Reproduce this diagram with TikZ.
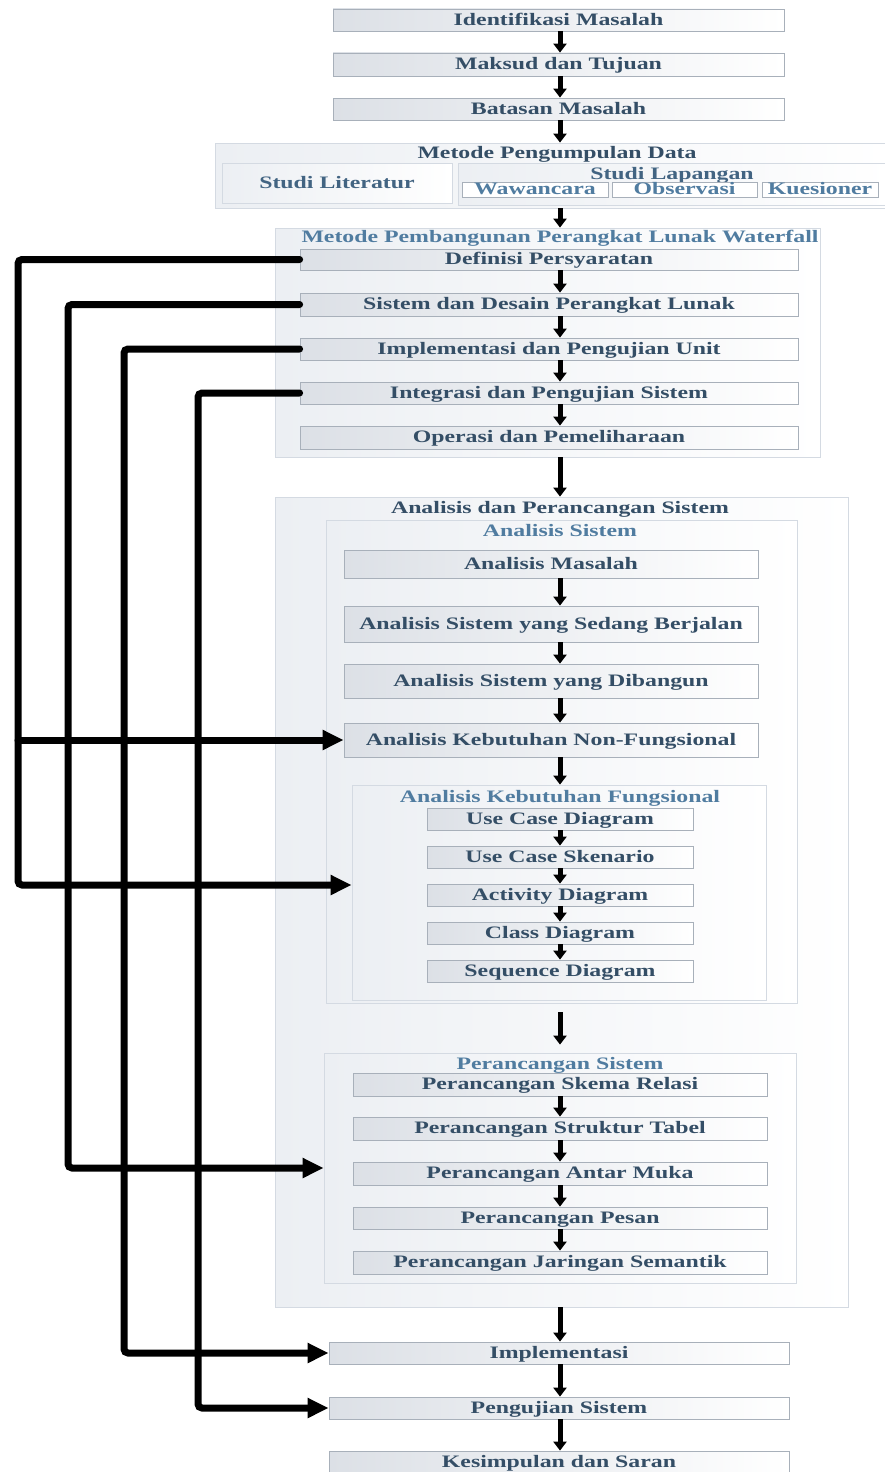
\documentclass[tikz,border=0pt]{standalone}
\usepackage{fontspec}
\setmainfont{Liberation Serif}
\usepackage{graphicx}
\usetikzlibrary{arrows.meta}
\definecolor{txt}{RGB}{52,78,102}
\definecolor{ttl}{RGB}{80,124,160}
\definecolor{mid}{RGB}{66,100,130}
\definecolor{bxl}{RGB}{220,224,230}
\definecolor{bxd}{RGB}{168,176,186}
\definecolor{cnl}{RGB}{236,239,243}
\definecolor{cnd}{RGB}{212,218,226}
\newcommand{\T}[1]{\scalebox{1.36}[1]{#1}}
\begin{document}
\begin{tikzpicture}[x=1pt,y=-1pt,
  fnt/.style={font=\fontsize{17.5}{19}\selectfont\bfseries, text height=11.5pt, text depth=1pt},
  stepbox/.style={draw=bxd, line width=0.8pt, left color=bxl, right color=white, inner sep=0pt, fnt, text=txt},
  cont/.style={draw=cnd, line width=0.8pt, left color=cnl, right color=white, inner sep=0pt},
  subbox/.style={draw=bxd, line width=0.6pt, fill=white, inner sep=0pt, fnt, text=ttl},
  dtitle/.style={inner sep=0pt, fnt, text=txt},
  ltitle/.style={inner sep=0pt, fnt, text=ttl},
  varrow/.style={line width=5pt, -{Triangle[width=13pt,length=9pt]}},
  larrow/.style={line width=7pt, rounded corners=4pt, line cap=round, -{Triangle[width=19pt,length=21pt]}}]
\useasboundingbox[fill=white] (0,0) rectangle (885,1472);
\coordinate (ax) at (560,0);

% top boxes
\node[stepbox, minimum width=451pt, minimum height=22pt] (idm) at (558.5,20) {\T{Identifikasi Masalah}};
\node[stepbox, minimum width=451pt, minimum height=23pt] (mdt) at (558.5,64.5) {\T{Maksud dan Tujuan}};
\node[stepbox, minimum width=451pt, minimum height=22pt] (bm) at (558.5,109) {\T{Batasan Masalah}};

% Metode Pengumpulan Data
\node[cont, minimum width=675pt, minimum height=65pt] (mpd) at (552.5,175.5) {};
\node[dtitle] (mpdt) at (557,153) {\T{Metode Pengumpulan Data}};
\node[cont, minimum width=230pt, minimum height=40pt, fnt, text=mid] (sl) at (337,183) {\T{Studi Literatur}};
\node[cont, minimum width=432pt, minimum height=42pt] (slap) at (674,184) {};
\node[inner sep=0pt, fnt, text=mid] (slapt) at (672,174) {\T{Studi Lapangan}};
\node[subbox, minimum width=146pt, minimum height=15pt] (wwc) at (535,189.5) {\T{Wawancara}};
\node[subbox, minimum width=145pt, minimum height=15pt] (obs) at (684.5,189.5) {\T{Observasi}};
\node[subbox, minimum width=116pt, minimum height=15pt] (kue) at (820,189.5) {\T{Kuesioner}};

% Waterfall
\node[cont, minimum width=545pt, minimum height=229pt] (wf) at (547.5,342.5) {};
\node[ltitle] (wft) at (560,237) {\T{Metode Pembangunan Perangkat Lunak Waterfall}};
\node[stepbox, minimum width=498pt, minimum height=21pt] (dp) at (549,259.5) {\T{Definisi Persyaratan}};
\node[stepbox, minimum width=498pt, minimum height=23pt] (sdp) at (549,304.5) {\T{Sistem dan Desain Perangkat Lunak}};
\node[stepbox, minimum width=498pt, minimum height=22pt] (ipu) at (549,349) {\T{Implementasi dan Pengujian Unit}};
\node[stepbox, minimum width=498pt, minimum height=22pt] (ips) at (549,393) {\T{Integrasi dan Pengujian Sistem}};
\node[stepbox, minimum width=498pt, minimum height=23pt] (odp) at (549,437.5) {\T{Operasi dan Pemeliharaan}};

% Analisis dan Perancangan Sistem
\node[cont, minimum width=573pt, minimum height=810pt] (aps) at (561.5,902) {};
\node[dtitle] (apst) at (560,508) {\T{Analisis dan Perancangan Sistem}};
\node[cont, minimum width=471pt, minimum height=483pt] (as) at (561.5,761.5) {};
\node[ltitle] (ast) at (560,531) {\T{Analisis Sistem}};
\node[stepbox, minimum width=414pt, minimum height=28pt] (am) at (551,564) {\T{Analisis Masalah}};
\node[stepbox, minimum width=414pt, minimum height=36pt] (asb) at (551,624) {\T{Analisis Sistem yang Sedang Berjalan}};
\node[stepbox, minimum width=414pt, minimum height=34pt] (asd) at (551,681) {\T{Analisis Sistem yang Dibangun}};
\node[stepbox, minimum width=414pt, minimum height=34pt] (akn) at (551,740) {\T{Analisis Kebutuhan Non-Fungsional}};
\node[cont, minimum width=414pt, minimum height=215pt] (akf) at (559,892.5) {};
\node[ltitle] (akft) at (560,797) {\T{Analisis Kebutuhan Fungsional}};
\node[stepbox, minimum width=266pt, minimum height=22pt] (ucd) at (560,819) {\T{Use Case Diagram}};
\node[stepbox, minimum width=266pt, minimum height=22pt] (ucs) at (560,857) {\T{Use Case Skenario}};
\node[stepbox, minimum width=266pt, minimum height=22pt] (acd) at (560,895) {\T{Activity Diagram}};
\node[stepbox, minimum width=266pt, minimum height=22pt] (cld) at (560,933) {\T{Class Diagram}};
\node[stepbox, minimum width=266pt, minimum height=22pt] (sqd) at (560,971) {\T{Sequence Diagram}};

\node[cont, minimum width=472pt, minimum height=230pt] (ps) at (560,1168) {};
\node[ltitle] (pst) at (560,1064) {\T{Perancangan Sistem}};
\node[stepbox, minimum width=414pt, minimum height=23pt] (psr) at (560,1084.5) {\T{Perancangan Skema Relasi}};
\node[stepbox, minimum width=414pt, minimum height=23pt] (pstb) at (560,1128.5) {\T{Perancangan Struktur Tabel}};
\node[stepbox, minimum width=414pt, minimum height=23pt] (pam) at (560,1173.5) {\T{Perancangan Antar Muka}};
\node[stepbox, minimum width=414pt, minimum height=22pt] (pp) at (560,1218) {\T{Perancangan Pesan}};
\node[stepbox, minimum width=414pt, minimum height=23pt] (pjs) at (560,1262.5) {\T{Perancangan Jaringan Semantik}};

% bottom
\node[stepbox, minimum width=460pt, minimum height=22pt] (imp) at (559,1353) {\T{Implementasi}};
\node[stepbox, minimum width=460pt, minimum height=22pt] (pgs) at (559,1408) {\T{Pengujian Sistem}};
\node[stepbox, minimum width=460pt, minimum height=22pt] (kds) at (559,1462) {\T{Kesimpulan dan Saran}};

% vertical arrows
\draw[varrow] (idm.south -| ax) -- (mdt.north -| ax);
\draw[varrow] (mdt.south -| ax) -- (bm.north -| ax);
\draw[varrow] (bm.south -| ax) -- (mpd.north -| ax);
\draw[varrow] (mpd.south -| ax) -- (wf.north -| ax);
\draw[varrow] (dp.south -| ax) -- (sdp.north -| ax);
\draw[varrow] (sdp.south -| ax) -- (ipu.north -| ax);
\draw[varrow] (ipu.south -| ax) -- (ips.north -| ax);
\draw[varrow] (ips.south -| ax) -- (odp.north -| ax);
\draw[varrow] (wf.south -| ax) -- (aps.north -| ax);
\draw[varrow] (am.south -| ax) -- (asb.north -| ax);
\draw[varrow] (asb.south -| ax) -- (asd.north -| ax);
\draw[varrow] (asd.south -| ax) -- (akn.north -| ax);
\draw[varrow] (akn.south -| ax) -- (akf.north -| ax);
\draw[varrow] (ucd.south -| ax) -- (ucs.north -| ax);
\draw[varrow] (ucs.south -| ax) -- (acd.north -| ax);
\draw[varrow] (acd.south -| ax) -- (cld.north -| ax);
\draw[varrow] (cld.south -| ax) -- (sqd.north -| ax);
\draw[varrow, shorten <=9pt, shorten >=8pt] (as.south -| ax) -- (ps.north -| ax);
\draw[varrow] (psr.south -| ax) -- (pstb.north -| ax);
\draw[varrow] (pstb.south -| ax) -- (pam.north -| ax);
\draw[varrow] (pam.south -| ax) -- (pp.north -| ax);
\draw[varrow] (pp.south -| ax) -- (pjs.north -| ax);
\draw[varrow] (aps.south -| ax) -- (imp.north -| ax);
\draw[varrow] (imp.south -| ax) -- (pgs.north -| ax);
\draw[varrow] (pgs.south -| ax) -- (kds.north -| ax);

% left connectors
\coordinate (l1) at (18,0);
\coordinate (l2) at (68,0);
\coordinate (l3) at (124,0);
\coordinate (l4) at (198,0);
\coordinate (b1) at (18,885);
\coordinate (j1) at (18,740);
\draw[larrow] (dp.west) -- (dp.west -| l1) -- (b1) -- (b1 -| akf.west);
\draw[larrow] (j1) -- (akn.west);
\draw[larrow] (sdp.west) -- (sdp.west -| l2) -- (l2 |- ps.west) -- (ps.west);
\draw[larrow] (ipu.west) -- (ipu.west -| l3) -- (l3 |- imp.west) -- (imp.west);
\draw[larrow] (ips.west) -- (ips.west -| l4) -- (l4 |- pgs.west) -- (pgs.west);
\end{tikzpicture}
\end{document}
